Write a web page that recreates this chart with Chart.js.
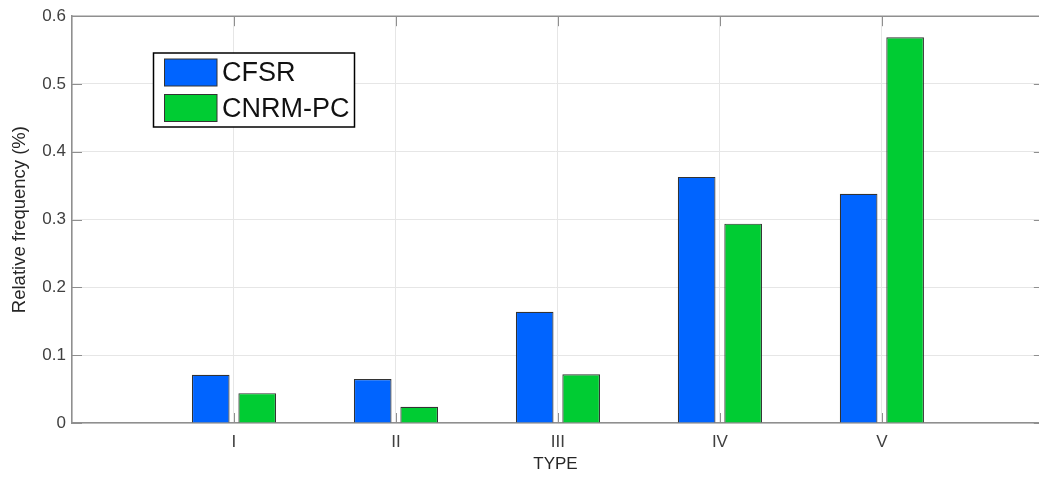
<!DOCTYPE html>
<html>
<head>
<meta charset="utf-8">
<script src="https://cdn.jsdelivr.net/npm/chart.js@4/dist/chart.umd.min.js"></script>
<style>
  html, body { margin: 0; padding: 0; background: #fff; overflow: hidden; width: 1039px; height: 477px; scrollbar-width: none; }
  canvas { display: block; }
</style>
</head>
<body>
<canvas id="freqChart" width="1039" height="477"></canvas>
<script>
// values
const types = ['I', 'II', 'III', 'IV', 'V'];
const cfsr = [0.071, 0.065, 0.164, 0.363, 0.338];
const cnrmPc = [0.044, 0.024, 0.072, 0.294, 0.569];
const yTicks = [0, 0.1, 0.2, 0.3, 0.4, 0.5, 0.6];

// bars sit at x = 1..5, axis runs 0..6 but the figure is cut just before 6
const xy = arr => arr.map((v, i) => ({ x: i + 1, y: v }));

const font = 'Liberation Sans, Arial, Helvetica, sans-serif';
const tickColor = '#404040';
const axisColor = '#8f8f8f';

// box on top + inside tick marks, drawn over the bars
const axesBox = {
    id: 'axesBox',
    afterDatasetsDraw(chart) {
        const c = chart.ctx, a = chart.chartArea;
        const x = chart.scales.x, y = chart.scales.y;
        const rightEdge = x.getPixelForValue(6);
        c.save();
        c.strokeStyle = axisColor;
        c.lineWidth = 1.5;
        c.beginPath();
        c.moveTo(a.left, a.top);
        c.lineTo(rightEdge, a.top);
        c.stroke();
        c.lineWidth = 1;
        c.beginPath();
        yTicks.forEach(v => {
            const py = Math.round(y.getPixelForValue(v)) + 0.5;
            c.moveTo(a.left, py); c.lineTo(a.left + 10, py);
            c.moveTo(rightEdge, py); c.lineTo(rightEdge - 10, py);
        });
        types.forEach((t, i) => {
            const px = Math.round(x.getPixelForValue(i + 1)) + 0.5;
            c.moveTo(px, a.bottom); c.lineTo(px, a.bottom - 10);
            c.moveTo(px, a.top); c.lineTo(px, a.top + 10);
        });
        c.stroke();
        c.restore();
    }
};

// legend box inside the plot, top left
const boxLegend = {
    id: 'boxLegend',
    afterDraw(chart) {
        const c = chart.ctx;
        c.save();
        c.fillStyle = '#fff';
        c.fillRect(153.5, 53, 201, 74);
        c.strokeStyle = '#000';
        c.lineWidth = 1.5;
        c.strokeRect(153.5, 53, 201, 74);
        const rows = [59, 94.5];
        chart.data.datasets.forEach((ds, i) => {
            c.fillStyle = ds.backgroundColor;
            c.fillRect(164.5, rows[i], 52.5, 27);
            c.strokeStyle = '#333';
            c.lineWidth = 1;
            c.strokeRect(164.5, rows[i], 52.5, 27);
            c.fillStyle = '#111';
            c.font = '27px ' + font;
            c.textBaseline = 'middle';
            c.fillText(ds.label, 222, rows[i] + 15);
        });
        c.restore();
    }
};

new Chart(document.getElementById('freqChart'), {
    type: 'bar',
    data: {
        datasets: [{
            label: 'CFSR',
            data: xy(cfsr),
            backgroundColor: '#0064ff',
            borderColor: '#333333',
            borderWidth: 1.2
        }, {
            label: 'CNRM-PC',
            data: xy(cnrmPc),
            backgroundColor: '#00cc33',
            borderColor: '#333333',
            borderWidth: 1.2
        }]
    },
    options: {
        responsive: false,
        animation: false,
        categoryPercentage: 0.574,
        barPercentage: 0.81,
        layout: { padding: { left: 0, top: 15, right: 0, bottom: 0 } },
        plugins: {
            legend: { display: false },
            tooltip: { enabled: false }
        },
        scales: {
            x: {
                type: 'linear',
                offset: false,
                min: 0,
                max: 5.97,
                afterBuildTicks(s) { s.ticks = [0, 1, 2, 3, 4, 5].map(v => ({ value: v })); },
                grid: { offset: false, color: '#e6e6e6', drawTicks: false },
                border: { color: axisColor, width: 1.5 },
                ticks: { color: tickColor, padding: 9, maxRotation: 0, autoSkip: false,
                         callback: v => types[v - 1] || '',
                         font: { family: font, size: 17 } },
                title: { display: true, text: 'TYPE', color: '#262626',
                         padding: { top: 0, bottom: 2 }, font: { family: font, size: 17 } },
                afterFit(s) { s.height = 54; s.paddingRight = 0; s.paddingLeft = 0; }
            },
            y: {
                min: 0,
                max: 0.6,
                afterBuildTicks(s) { s.ticks = yTicks.map(v => ({ value: v })); },
                grid: { color: '#e6e6e6', drawTicks: false },
                border: { color: axisColor, width: 1.5 },
                ticks: { color: tickColor, padding: 6, font: { family: font, size: 17 } },
                title: { display: true, text: 'Relative frequency (%)', color: '#262626',
                         padding: { top: 9, bottom: 0 }, font: { family: font, size: 18.5 } },
                afterFit(s) { s.width = 72; }
            }
        }
    },
    plugins: [axesBox, boxLegend]
});
</script>
</body>
</html>
